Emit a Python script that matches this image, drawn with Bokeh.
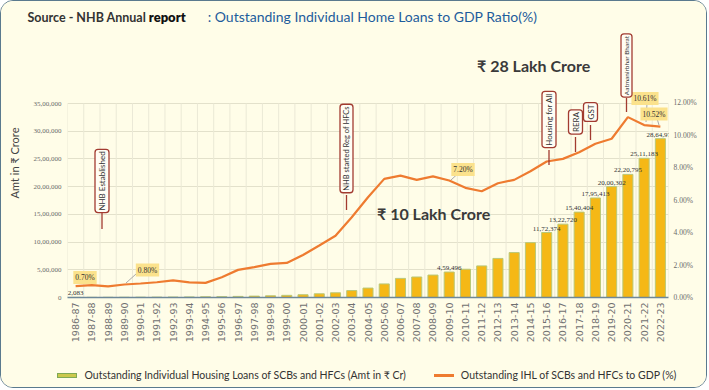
import math
from bokeh.plotting import figure
from bokeh.layouts import column
from bokeh.models import (Range1d, LinearAxis, FixedTicker, PrintfTickFormatter,
                          Label, ColumnDataSource, Div)
from bokeh.core.properties import value
from bokeh.embed import file_html
from bokeh.resources import INLINE

# ---------------- data ----------------
years = ["1986-87", "1987-88", "1988-89", "1989-90", "1990-91", "1991-92", "1992-93",
         "1993-94", "1994-95", "1995-96", "1996-97", "1997-98", "1998-99", "1999-00",
         "2000-01", "2001-02", "2002-03", "2003-04", "2004-05", "2005-06", "2006-07",
         "2007-08", "2008-09", "2009-10", "2010-11", "2011-12", "2012-13", "2013-14",
         "2014-15", "2015-16", "2016-17", "2017-18", "2018-19", "2019-20", "2020-21",
         "2021-22", "2022-23"]

loans_cr = [2083, 2600, 3400, 4400, 5600, 7000, 8400,
            10200, 12600, 15500, 20000, 25000, 31000, 39000,
            50000, 67000, 85000, 125000, 170000, 245000, 345000,
            370000, 405000, 459496, 510000, 570000, 705000, 810000,
            990000, 1172374, 1322720, 1540404, 1795413, 2000302, 2220795,
            2511183, 2864970]

ihl_gdp_pct = [0.70, 0.76, 0.68, 0.80, 0.86, 0.94, 1.05,
               0.93, 0.90, 1.25, 1.70, 1.87, 2.07, 2.13,
               2.62, 3.20, 3.80, 4.94, 6.17, 7.30, 7.50,
               7.24, 7.45, 7.20, 6.75, 6.54, 7.03, 7.24,
               7.77, 8.37, 8.53, 8.94, 9.46, 9.77, 11.10,
               10.61, 10.52]

left_ticks = [0, 500000, 1000000, 1500000, 2000000, 2500000, 3000000, 3500000]
right_ticks = [0, 2, 4, 6, 8, 10, 12]

labeled_loan_years = ["1986-87", "2009-10", "2015-16", "2016-17", "2017-18", "2018-19",
                      "2019-20", "2020-21", "2021-22", "2022-23"]
labeled_pct_years = ["1986-87", "1989-90", "2009-10", "2021-22", "2022-23"]

events = ["NHB Established", "NHB started Reg of HFCs", "Housing for All",
          "RERA", "GST", "Aatmanirbhar Bharat"]

title_source = "Source - NHB Annual"
title_report = "report"
title_main = ": Outstanding Individual Home Loans to GDP Ratio(%)"
big_28 = "\u20b9 28 Lakh Crore"
big_10 = "\u20b9 10 Lakh Crore"
legend_bar = "Outstanding Individual Housing Loans of SCBs and HFCs (Amt in \u20b9 Cr)"
legend_line = "Outstanding IHL of SCBs and HFCs to GDP (%)"


def indian(n):
    s = str(int(round(n)))
    if len(s) <= 3:
        return s
    head, tail = s[:-3], s[-3:]
    parts = []
    while len(head) > 2:
        parts.insert(0, head[-2:])
        head = head[:-2]
    if head:
        parts.insert(0, head)
    return ",".join(parts + [tail])


# ---------------- geometry (layout only) ----------------
BORDER = 1.5
W = 705
TITLE_H, MAIN_H, LEG_H = 27, 319, 40
MB_L, MB_R, MB_T = 66, 38, 0
REF_L = BORDER + MB_L            # frame left in page px (67.5)
REF_T = BORDER + TITLE_H         # frame top (28.5)
REF_B = 297.5                    # frame bottom (zero line)
FRAME_W = W - MB_L - MB_R        # 601
FRAME_H = int(REF_B - REF_T)     # 269
MB_B = MAIN_H - MB_T - FRAME_H   # 50
PX_PER_LAKH = 194 / 35.0
LEFT_END = FRAME_H / PX_PER_LAKH * 1e5
RIGHT_END = FRAME_H / 16.25
CAT_W = FRAME_W / len(years)


def xs(rx):      # page pixel x -> synthetic category coordinate
    return (rx - REF_L) / CAT_W


def yv(ry):      # page pixel y -> left axis value
    return (REF_B - ry) / PX_PER_LAKH * 1e5


BG = "#fffde8"
FONT = "Lato"
BAR_FILL, BAR_LINE, LINE_COL = "#f5b816", "#b9c878", "#ee7b30"

# ---------------- title row ----------------
title_html = (
    f'<span style="color:#333333;font-weight:700;font-size:12.5px">{title_source} </span>'
    f'<span style="color:#111111;font-weight:800;font-size:13px">{title_report}</span>'
    f'<span style="display:inline-block;width:22px"></span>'
    f'<span style="color:#1d5c9c;font-weight:400;font-size:14px">{title_main}</span>'
)
title_div = Div(text=title_html, width=W, height=TITLE_H, margin=0,
                styles={"font-family": "Lato, sans-serif", "white-space": "nowrap",
                        "padding-left": "26.5px", "padding-top": "4px",
                        "line-height": "23px", "box-sizing": "border-box",
                        "background-color": BG})

# ---------------- main chart ----------------
p = figure(x_range=years, y_range=Range1d(0, LEFT_END), width=W, height=MAIN_H,
           output_backend="svg", toolbar_location=None,
           min_border_left=MB_L, min_border_right=MB_R,
           min_border_top=MB_T, min_border_bottom=MB_B)
p.background_fill_color = BG
p.border_fill_color = BG
p.outline_line_color = None
p.extra_y_ranges = {"pct": Range1d(0, RIGHT_END)}

lt = FixedTicker(ticks=left_ticks)
p.xgrid.grid_line_color = None
p.ygrid.ticker = lt
p.ygrid.grid_line_color = "#e3e1cb"
p.ygrid.grid_line_width = 1
bounds = list(range(len(years) + 1))
p.segment(x0=bounds, y0=[0] * len(bounds), x1=bounds, y1=[left_ticks[-1]] * len(bounds),
          line_color="#ebe9d6", line_width=1)

ya = p.yaxis[0]
ya.ticker = lt
ya.major_label_overrides = {t: indian(t) for t in left_ticks}
ya.axis_line_color = None
ya.major_tick_line_color = None
ya.minor_tick_line_color = None
ya.major_tick_out = 0
ya.minor_tick_out = 0
ya.major_label_standoff = 6
ya.major_label_text_font = "Liberation Serif"
ya.major_label_text_font_size = "7px"
ya.major_label_text_color = "#6a6a6a"
ya.axis_label = "Amt in \u20b9 Crore"
ya.axis_label_text_font = FONT
ya.axis_label_text_font_style = "normal"
ya.axis_label_text_font_size = "11px"
ya.axis_label_text_color = "#444444"
ya.axis_label_standoff = 10

ra = LinearAxis(y_range_name="pct", ticker=FixedTicker(ticks=right_ticks),
                formatter=PrintfTickFormatter(format="%.2f%%"))
ra.axis_line_color = None
ra.major_tick_line_color = None
ra.minor_tick_line_color = None
ra.major_tick_out = 0
ra.minor_tick_out = 0
ra.major_label_standoff = 5
ra.major_label_text_font = "Liberation Serif"
ra.major_label_text_font_size = "7.5px"
ra.major_label_text_color = "#6a6a6a"
p.add_layout(ra, "right")

xa = p.xaxis[0]
xa.major_label_orientation = math.pi / 2
xa.major_label_text_font = "DejaVu Sans"
xa.major_label_text_font_size = "9.5px"
xa.major_label_text_color = "#707070"
xa.major_label_standoff = 5
xa.major_tick_line_color = None
xa.major_tick_out = 0
xa.axis_line_color = "#6e8899"
xa.axis_line_width = 1.5

src = ColumnDataSource(dict(year=years, loans=loans_cr, pct=ihl_gdp_pct))
p.vbar(x="year", top="loans", width=0.62, source=src,
       fill_color=BAR_FILL, line_color=BAR_LINE, line_width=1)
p.line(x="year", y="pct", y_range_name="pct", source=src,
       line_color=LINE_COL, line_width=2.2)

lab_vals = [loans_cr[years.index(y)] for y in labeled_loan_years]
lab_src = ColumnDataSource(dict(x=labeled_loan_years, y=lab_vals,
                                t=[indian(v) for v in lab_vals]))
p.text(x="x", y="y", text="t", source=lab_src, text_align="center",
       text_baseline="bottom", y_offset=-2,
       text_font=value("Liberation Serif"), text_font_size="7px", text_color="#333333")

pct_label_pos = [(85, 277.5), (147.5, 270), (463, 169.5), (645, 98.5), (654, 114)]
for yr, (rx, ry) in zip(labeled_pct_years, pct_label_pos):
    v = ihl_gdp_pct[years.index(yr)]
    p.add_layout(Label(x=xs(rx), y=yv(ry), text=f"{v:.2f}%", text_align="center",
                       text_baseline="middle", text_font="Liberation Serif",
                       text_font_size="7.5px", text_color="#333333",
                       background_fill_color="#fbe28c", padding=2))
leaders = [((136, 274), (126, 283)), ((457, 174.5), (451, 180)),
           ((647, 103), (646, 122)), ((657, 118.5), (659, 125))]
p.segment(x0=[xs(a[0]) for a, b in leaders], y0=[yv(a[1]) for a, b in leaders],
          x1=[xs(b[0]) for a, b in leaders], y1=[yv(b[1]) for a, b in leaders],
          line_color="#a9a9a9", line_width=1)

callouts = [(102, 181, 229), (346.5, 148.5, 210), (549, 119.5, 165),
            (575.5, 122, 152), (590.5, 112, 140), (626.5, 65.5, 112)]
box_half = [32, 46.5, 30.5, 15, 13, 32.5]
callout_font = ["8px", "7.5px", "8px", "8px", "8px", "6.5px"]
for ev, (cx, cy, sb), fs in zip(events, callouts, callout_font):
    p.add_layout(Label(x=xs(cx), y=yv(cy), text=ev, angle=90, angle_units="deg",
                       text_align="center", text_baseline="middle",
                       text_font=FONT, text_font_size=fs, text_color="#333333",
                       background_fill_color="#fffdf4", border_line_color="#a23b30",
                       border_line_width=1.3, border_radius=3, padding=2))
p.segment(x0=[xs(c[0]) for c in callouts], y0=[yv(c[1] + h) for c, h in zip(callouts, box_half)],
          x1=[xs(c[0]) for c in callouts], y1=[yv(c[2]) for c in callouts],
          line_color="#a23b30", line_width=1.3)

p.add_layout(Label(x=477 - REF_L, y=REF_B - 65, x_units="screen", y_units="screen",
                   text=big_28, text_font=FONT, text_font_style="bold",
                   text_font_size="16px", text_color="#3a3a3a", text_baseline="middle"))
p.add_layout(Label(x=377 - REF_L, y=REF_B - 213, x_units="screen", y_units="screen",
                   text=big_10, text_font=FONT, text_font_style="bold",
                   text_font_size="16px", text_color="#3a3a3a", text_baseline="middle"))

# ---------------- legend row ----------------
legend_html = (
    f'<span style="display:inline-block;width:20px;height:5px;background:#cbc84c;'
    f'border:1px solid #7fa955;vertical-align:middle"></span>'
    f'<span style="margin-left:8px;vertical-align:middle">{legend_bar}</span>'
    f'<span style="display:inline-block;width:20px;height:3px;background:{LINE_COL};'
    f'margin-left:28px;vertical-align:middle"></span>'
    f'<span style="margin-left:7px;vertical-align:middle">{legend_line}</span>'
)
legend_div = Div(text=legend_html, width=W, height=LEG_H, margin=0,
                 styles={"font-family": "Lato, sans-serif", "font-size": "10.5px",
                         "color": "#333333", "white-space": "nowrap",
                         "padding-left": "55.5px", "padding-top": "20px",
                         "line-height": "15px", "box-sizing": "border-box",
                         "background-color": BG})

page = column(title_div, p, legend_div, spacing=0,
              styles={"border": f"{BORDER}px solid #5a7a8e", "border-radius": "13px",
                      "overflow": "hidden", "background-color": BG})

open("out.html", "w").write(file_html(page, INLINE))
